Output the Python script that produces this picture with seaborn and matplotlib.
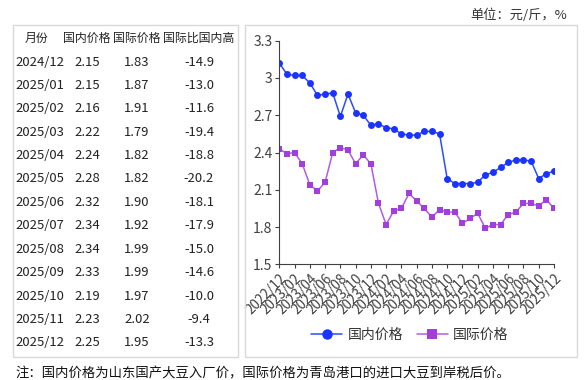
import numpy as np
import pandas as pd
import matplotlib
matplotlib.use("Agg")
import matplotlib.pyplot as plt
from matplotlib.patches import Rectangle
import seaborn as sns

# monthly series 2022/12 .. 2025/12
months = ["2022/12", "2023/01", "2023/02", "2023/03", "2023/04", "2023/05", "2023/06",
          "2023/07", "2023/08", "2023/09", "2023/10", "2023/11", "2023/12",
          "2024/01", "2024/02", "2024/03", "2024/04", "2024/05", "2024/06",
          "2024/07", "2024/08", "2024/09", "2024/10", "2024/11", "2024/12",
          "2025/01", "2025/02", "2025/03", "2025/04", "2025/05", "2025/06",
          "2025/07", "2025/08", "2025/09", "2025/10", "2025/11", "2025/12"]
domestic = [3.12, 3.03, 3.02, 3.02, 2.96, 2.86, 2.87, 2.88, 2.69, 2.87, 2.72, 2.70, 2.62,
            2.63, 2.60, 2.59, 2.55, 2.54, 2.54, 2.57, 2.57, 2.55, 2.19, 2.15, 2.15,
            2.15, 2.16, 2.22, 2.24, 2.28, 2.32, 2.34, 2.34, 2.33, 2.19, 2.23, 2.25]
international = [2.43, 2.39, 2.40, 2.31, 2.14, 2.09, 2.16, 2.40, 2.44, 2.42, 2.31, 2.38, 2.31,
                 1.99, 1.82, 1.93, 1.95, 2.07, 2.01, 1.95, 1.88, 1.94, 1.92, 1.92, 1.83,
                 1.87, 1.91, 1.79, 1.82, 1.82, 1.90, 1.92, 1.99, 1.99, 1.97, 2.02, 1.95]

# table on the left
tbl_header = ["月份", "国内价格", "国际价格", "国际比国内高"]
tbl_months = ["2024/12", "2025/01", "2025/02", "2025/03", "2025/04", "2025/05", "2025/06",
              "2025/07", "2025/08", "2025/09", "2025/10", "2025/11", "2025/12"]
tbl_domestic = ["2.15", "2.15", "2.16", "2.22", "2.24", "2.28", "2.32",
                "2.34", "2.34", "2.33", "2.19", "2.23", "2.25"]
tbl_intl = ["1.83", "1.87", "1.91", "1.79", "1.82", "1.82", "1.90",
            "1.92", "1.99", "1.99", "1.97", "2.02", "1.95"]
tbl_diff = ["-14.9", "-13.0", "-11.6", "-19.4", "-18.8", "-20.2", "-18.1",
            "-17.9", "-15.0", "-14.6", "-10.0", "-9.4", "-13.3"]

sns.set_theme(style="ticks")
plt.rcParams["font.family"] = ["Noto Sans CJK SC", "DejaVu Sans"]

W, H = 586, 380
fig = plt.figure(figsize=(W / 100, H / 100), dpi=100)

def fx(px):
    return px / W

def fy(py):
    return 1 - py / H

# boxes
border = "#d9d9d9"
fig.patches.append(Rectangle((fx(13), fy(357)), fx(238) - fx(13), fy(25) - fy(357),
                             transform=fig.transFigure, fill=False, edgecolor=border, lw=1))
fig.patches.append(Rectangle((fx(245), fy(357)), fx(577) - fx(245), fy(25) - fy(357),
                             transform=fig.transFigure, fill=False, edgecolor=border, lw=1))

# table
txt = "#222222"
col_x = [37, 87, 137, 199]
fs = 9.4
for j, h in enumerate(tbl_header):
    fig.text(fx(col_x[j]), fy(38), h, ha="center", va="center", fontsize=8.6, color=txt)
for i in range(len(tbl_months)):
    y = fy(62 + i * 23.4)
    fig.text(fx(15), y, tbl_months[i], ha="left", va="center", fontsize=fs, color=txt)
    fig.text(fx(col_x[1]), y, tbl_domestic[i], ha="center", va="center", fontsize=fs, color=txt)
    fig.text(fx(col_x[2]), y, tbl_intl[i], ha="center", va="center", fontsize=fs, color=txt)
    fig.text(fx(col_x[3]), y, tbl_diff[i], ha="center", va="center", fontsize=fs, color=txt)

# line chart
ax = fig.add_axes([fx(279.3), fy(264.3), fx(554) - fx(279.3), fy(40.7) - fy(264.3)])
df = pd.DataFrame({"idx": np.arange(len(months)), "国内价格": domestic, "国际价格": international})
sns.lineplot(data=df, x="idx", y="国内价格", ax=ax, color="#2a4cff", lw=1.1,
             marker="o", markersize=5, markerfacecolor="#1a33ff", markeredgewidth=0,
             label="国内价格")
sns.lineplot(data=df, x="idx", y="国际价格", ax=ax, color="#b25ce0", lw=1.1,
             marker="s", markersize=4.6, markerfacecolor="#a23fdc", markeredgewidth=0,
             label="国际价格")

ax.set_xlim(0, len(months) - 1)
ax.set_ylim(1.5, 3.3)
ax.set_yticks([1.5, 1.8, 2.1, 2.4, 2.7, 3.0, 3.3])
ax.set_yticklabels(["1.5", "1.8", "2.1", "2.4", "2.7", "3", "3.3"])
ax.set_xticks(range(0, len(months), 2))
ax.set_xticklabels(months[::2], rotation=45, ha="right", rotation_mode="anchor")
ax.set_xlabel("")
ax.set_ylabel("")
ax.tick_params(axis="both", colors="#404040", length=3, width=0.8, pad=2)
ax.tick_params(axis="y", labelsize=10)
ax.tick_params(axis="x", labelsize=9.8)
for s in ["top", "right"]:
    ax.spines[s].set_visible(False)
for s in ["left", "bottom"]:
    ax.spines[s].set_color("#404040")
    ax.spines[s].set_linewidth(0.8)
ax.patch.set_alpha(0)

leg = ax.legend(loc="center", bbox_to_anchor=(fx(410), fy(335)), bbox_transform=fig.transFigure,
                ncol=2, frameon=False, fontsize=10, handlelength=2.2, columnspacing=1.0,
                markerscale=1.5, handletextpad=0.4)
for t in leg.get_texts():
    t.set_color("#333333")

# unit and footnote
fig.text(fx(567), fy(15), "单位：元/斤，%", ha="right", va="center", fontsize=9.5, color="#333333")
fig.text(fx(15), fy(373), "注：国内价格为山东国产大豆入厂价，国际价格为青岛港口的进口大豆到岸税后价。",
         ha="left", va="center", fontsize=9.6, color="#111111")

fig.savefig("out.png", dpi=100)
